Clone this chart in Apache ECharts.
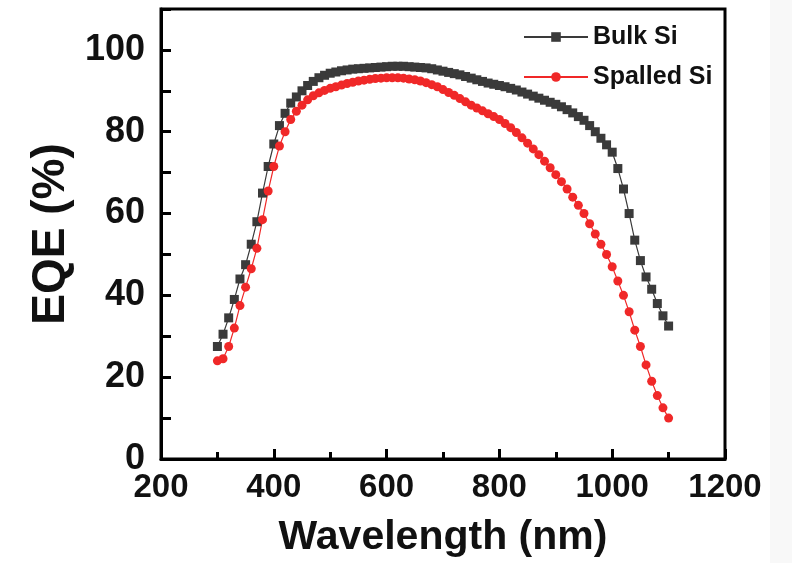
<!DOCTYPE html>
<html>
<head>
<meta charset="utf-8">
<script src="https://cdn.jsdelivr.net/npm/echarts@6/dist/echarts.min.js"></script>
<style>html,body{margin:0;padding:0;background:#fff;}#c{width:792px;height:563px;}</style>
</head>
<body>
<div id="c"></div>
<script>
const wavelengths = [];
for (let w = 300; w <= 1100; w += 10) wavelengths.push(w);

const bulkSi = [27.5,30.5,34.5,39,44,47.5,52.5,58,65,71.5,
  77,81.5,84.5,87,88.5,90,91.3,92.3,93.2,93.8,
  94.3,94.6,94.9,95.1,95.3,95.4,95.5,95.6,95.7,95.8,
  95.9,96,96,96,95.9,95.8,95.7,95.6,95.4,95.1,
  94.8,94.5,94.2,93.9,93.5,93.1,92.7,92.3,91.9,91.6,
  91.3,91,90.6,90.2,89.7,89.2,88.7,88.2,87.7,87.2,
  86.7,86.1,85.4,84.6,83.7,82.8,81.5,80,78.4,76.8,
  75,71,66,60,53.5,48.5,44.5,41.5,38,35,32.5];

const spalledSi = [24,24.5,27.5,32,37.5,42,46.5,51.5,58.5,65.5,
  71.5,76.5,80,83,85,86.5,87.8,88.8,89.5,90.1,
  90.6,91,91.4,91.8,92.1,92.4,92.6,92.8,93,93.1,
  93.2,93.2,93.2,93.1,92.9,92.7,92.4,92,91.5,91,
  90.3,89.6,88.9,88.1,87.3,86.5,85.8,85.1,84.4,83.7,
  83,82,81,79.8,78.5,77.2,75.8,74.4,72.8,71.2,
  69.5,67.8,66,64,62,60,57.5,55,52.5,50,
  47,43.5,40,36,31.5,27.5,23,19,15.5,12.5,10];

const seriesNames = ['Bulk Si', 'Spalled Si'];
const xTitle = 'Wavelength (nm)';
const yTitle = 'EQE (%)';

const font = '"Liberation Sans", Arial, sans-serif';
const chart = echarts.init(document.getElementById('c'), null, {renderer: 'canvas'});
const pair = (ys) => wavelengths.map((w, i) => [w, ys[i]]);

chart.setOption({
  backgroundColor: '#ffffff',
  animation: false,
  graphic: [{type: 'rect', shape: {x: 770, y: 0, width: 22, height: 563}, style: {fill: '#f8f8f8'}, z: -10}],
  grid: {left: 161, right: 67, top: 9, bottom: 102, show: true, borderColor: '#000', borderWidth: 3, backgroundColor: 'transparent'},
  legend: {
    orient: 'vertical', left: 518, top: 17, itemWidth: 64, itemHeight: 12, itemGap: 10,
    textStyle: {fontFamily: font, fontSize: 25, fontWeight: 'bold', color: '#111', lineHeight: 30},
    data: seriesNames
  },
  xAxis: {
    type: 'value', min: 200, max: 1200, interval: 200,
    name: xTitle, nameLocation: 'middle', nameGap: 58,
    nameTextStyle: {fontFamily: font, fontSize: 41, fontWeight: 'bold', color: '#111'},
    axisLine: {show: true, lineStyle: {color: '#000', width: 3}},
    axisTick: {inside: true, length: 10, lineStyle: {color: '#000', width: 3}},
    minorTick: {show: true, splitNumber: 2, length: 7, lineStyle: {color: '#000', width: 3}},
    axisLabel: {fontFamily: font, fontSize: 33, fontWeight: 'bold', color: '#111', margin: 12,
      formatter: (v) => String(v)},
    splitLine: {show: false}
  },
  yAxis: [{
    type: 'value', min: 0, max: 110, interval: 10,
    name: yTitle, nameLocation: 'middle', nameGap: 77,
    nameTextStyle: {fontFamily: font, fontSize: 46, fontWeight: 'bold', color: '#111'},
    axisLine: {show: true, lineStyle: {color: '#000', width: 3}},
    axisTick: {inside: true, length: 10, interval: (i, v) => Number(v) % 20 === 0, lineStyle: {color: '#000', width: 3}},
    axisLabel: {fontFamily: font, fontSize: 36, fontWeight: 'bold', color: '#111', margin: 16,
      formatter: (v) => (v % 20 === 0 && v <= 100) ? String(v) : ''},
    splitLine: {show: false}
  }, {
    type: 'value', min: 0, max: 110, interval: 10, position: 'left',
    axisLine: {show: false},
    axisTick: {show: true, inside: true, length: 7, interval: (i, v) => Number(v) % 20 === 10 && Number(v) < 110, lineStyle: {color: '#000', width: 3}},
    axisLabel: {show: false},
    splitLine: {show: false}
  }],
  series: [{
    name: seriesNames[0], type: 'line', data: pair(bulkSi),
    symbol: 'rect', symbolSize: 9,
    itemStyle: {color: '#3a3a3a'}, lineStyle: {color: '#3a3a3a', width: 1.2}
  }, {
    name: seriesNames[1], type: 'line', data: pair(spalledSi),
    symbol: 'circle', symbolSize: 9,
    itemStyle: {color: '#f02828'}, lineStyle: {color: '#f02828', width: 1.2}
  }]
});
</script>
</body>
</html>
